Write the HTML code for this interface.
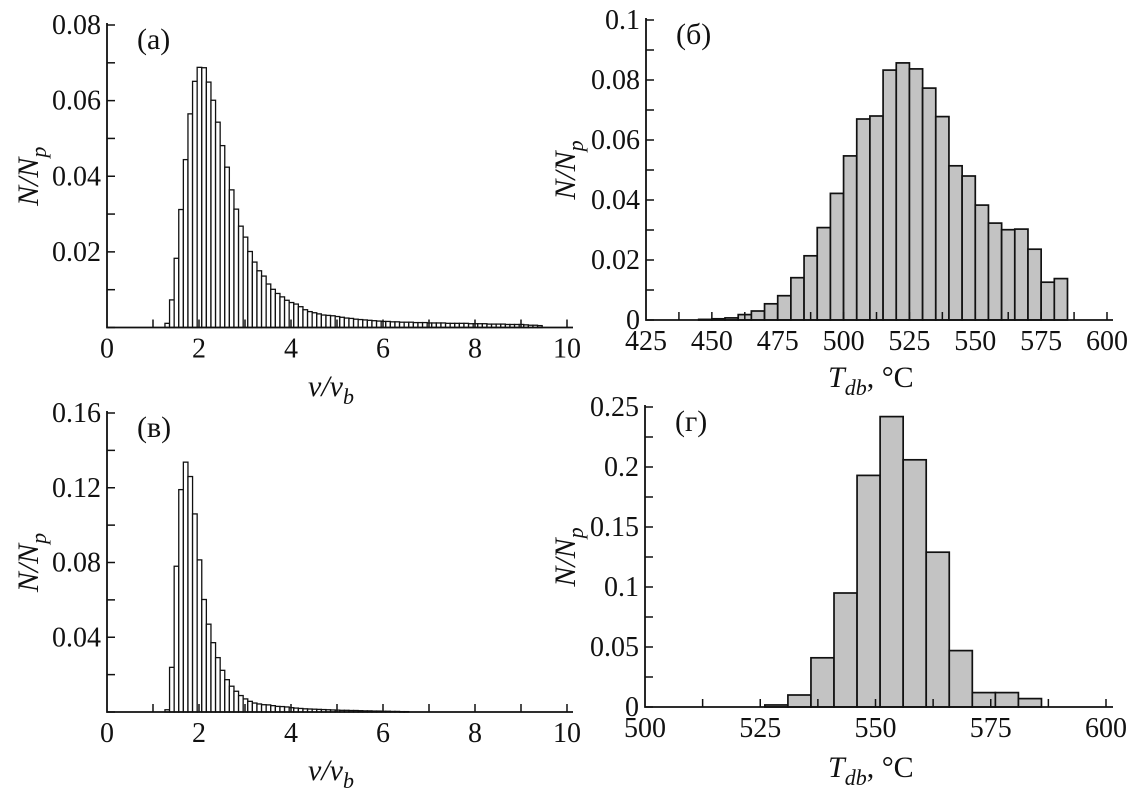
<!DOCTYPE html>
<html><head><meta charset="utf-8"><style>
body{margin:0;background:#fff;}
svg{display:block;font-family:"Liberation Serif",serif;}
</style></head><body>
<svg id="fig" width="1139" height="800" viewBox="0 0 1139 800" xmlns="http://www.w3.org/2000/svg"></svg>
<script>
// Panel (a): v/v_b histogram, bins of 0.1 starting at 1.26, values in units of 0.001
const aBinStart = 1.26;
const aBinWidth = 0.1;
const aValues = [1.1,7.3,18.3,31.2,44.4,56.5,65.1,68.8,68.7,64.9,60.1,54.3,48.1,42.4,36.4,31.3,26.8,23.9,20.1,17.3,15.0,13.6,11.5,10.1,9.0,8.1,7.2,6.6,6.2,5.5,4.7,4.2,3.9,3.6,3.3,3.2,3.1,2.9,2.7,2.5,2.4,2.2,2.1,2.0,1.9,1.8,1.7,1.6,1.6,1.5,1.5,1.4,1.4,1.4,1.3,1.3,1.3,1.2,1.2,1.2,1.2,1.1,1.1,1.1,1.1,1.1,1.0,1.0,1.0,1.0,0.9,0.9,0.9,0.9,0.8,0.8,0.8,0.8,0.7,0.6,0.6,0.5];
const aYTicks = ["0.02","0.04","0.06","0.08"];
const vXTicks = ["0","2","4","6","8","10"];
// Panel (б): T_db histogram, bins of 5 °C
const bBinStart = 445;
const bBinWidth = 5;
const bValues = [0.2,0.4,0.7,1.8,3.0,5.4,8.1,14.1,21.4,30.8,42.2,54.7,67.0,68.0,83.3,85.7,83.7,77.3,67.8,51.4,48.0,38.3,32.3,30.1,30.3,23.6,12.6,13.8];
const bYTicks = ["0","0.02","0.04","0.06","0.08","0.1"];
const bXTicks = ["425","450","475","500","525","550","575","600"];
// Panel (в)
const cBinStart = 1.26;
const cBinWidth = 0.1;
const cValues = [1.2,23.9,78,119,133.7,126,106,81.4,60.2,47,37.1,29.1,22.3,17.3,13.8,11.1,8.8,7.0,5.7,4.8,4.3,3.9,3.8,3.4,3.0,2.9,2.7,2.3,2.1,1.9,1.7,1.6,1.5,1.4,1.3,1.2,1.1,1.0,0.9,0.9,0.8,0.8,0.7,0.6,0.6,0.5,0.5,0.4,0.4,0.3,0.3,0.2,0.2];
const cYTicks = ["0.04","0.08","0.12","0.16"];
// Panel (г)
const dBinStart = 526;
const dBinWidth = 5;
const dValues = [0.0017,0.010,0.041,0.095,0.193,0.242,0.206,0.129,0.047,0.012,0.012,0.007];
const dYTicks = ["0","0.05","0.1","0.15","0.2","0.25"];
const dXTicks = ["500","525","550","575","600"];

const NS="http://www.w3.org/2000/svg";
const svg=document.getElementById('fig');
function mk(tag,attrs,parent){const e=document.createElementNS(NS,tag);for(const k in attrs)e.setAttribute(k,attrs[k]);(parent||svg).appendChild(e);return e;}

function panel(cfg){
  const g=mk('g',{});
  
  
  const X=v=>cfg.x0+(v-cfg.xmin)/(cfg.xmax-cfg.xmin)*(cfg.x1-cfg.x0);
  const Y=v=>cfg.y0-(v-cfg.ymin)/(cfg.ymax-cfg.ymin)*(cfg.y0-cfg.y1);
  const bg=mk('g',{},g);
  
  
  cfg.values.forEach((v,i)=>{
    const l=cfg.binStart+i*cfg.binWidth, val=v*cfg.scale;
    const xa=X(l), xb=X(l+cfg.binWidth), yt=Y(val);
    const r=mk('rect',{x:xa,y:yt,width:xb-xa,height:Math.max(0.5,cfg.y0-yt),fill:cfg.fill,stroke:'#111','stroke-width':cfg.sw},bg);
    
    
  });
  const ax=mk('path',{d:`M${cfg.x0},${cfg.y1-2} V${cfg.y0} H${cfg.xEnd}`,fill:'none',stroke:'#111','stroke-width':1.8},g);
  
  
  for(let v=cfg.ymin;v<=cfg.ymax+1e-9;v+=cfg.yMinor){
    mk('line',{x1:cfg.x0,x2:cfg.x0+8,y1:Y(v),y2:Y(v),stroke:'#111','stroke-width':1.5},g);
  }
  cfg.yTicks.forEach(t=>{
    const tx=mk('text',{x:cfg.x0-6,y:Y(parseFloat(t))+9,'text-anchor':'end','font-size':28,fill:'#111'},g);
    tx.textContent=t;
    
    
  });
  for(let v=cfg.xmin+cfg.xMinor;v<=cfg.xmax+1e-9;v+=cfg.xMinor){
    mk('line',{x1:X(v),x2:X(v),y1:cfg.y0,y2:cfg.y0-8,stroke:'#111','stroke-width':1.5},g);
  }
  cfg.xTicks.forEach(t=>{
    const tx=mk('text',{x:X(parseFloat(t)),y:cfg.y0+30,'text-anchor':'middle','font-size':28,fill:'#111'},g);
    tx.textContent=t;
    
    
  });
  const lt=mk('text',{x:cfg.x0+30,y:cfg.y1+24,'font-size':30,fill:'#111'},g);
  lt.textContent=cfg.letter;
  
  
  const yc=(cfg.y0+cfg.y1)/2;
  const yt=mk('text',{x:0,y:0,transform:`translate(${cfg.yTitleX},${yc}) rotate(-90)`,'text-anchor':'middle','font-size':30,'font-style':'italic',fill:'#111'},g);
  yt.innerHTML='N/N<tspan font-size="22" dy="8">p</tspan>';
  
  
  const xt=mk('text',{x:cfg.xTitleX,y:cfg.xTitleY,'font-size':30,fill:'#111'},g);
  xt.innerHTML=cfg.xTitle;
  
  
}

const vTitle='<tspan font-style="italic">v/v</tspan><tspan font-style="italic" font-size="22" dy="8">b</tspan>';
const tTitle='<tspan font-style="italic">T</tspan><tspan font-style="italic" font-size="22" dy="8">db</tspan><tspan dy="-8">, °C</tspan>';
panel({name:'panel-a',letter:'(a)',x0:107,x1:567,xEnd:573,xmin:0,xmax:10,y0:327.5,y1:25,ymin:0,ymax:0.08,
  values:aValues,binStart:aBinStart,binWidth:aBinWidth,scale:0.001,fill:'#fff',sw:1.3,
  yMinor:0.01,xMinor:1,yTicks:aYTicks,xTicks:vXTicks,yTitleX:38,
  xTitle:vTitle,xTitleX:308,xTitleY:396});
panel({name:'panel-b',letter:'(б)',x0:646,x1:1107,xEnd:1113,xmin:425,xmax:600,y0:320,y1:20,ymin:0,ymax:0.1,
  values:bValues,binStart:bBinStart,binWidth:bBinWidth,scale:0.001,fill:'#c3c3c3',sw:1.7,
  yMinor:0.01,xMinor:12.5,yTicks:bYTicks,xTicks:bXTicks,yTitleX:575,
  xTitle:tTitle,xTitleX:828,xTitleY:387});
panel({name:'panel-c',letter:'(в)',x0:107,x1:567,xEnd:573,xmin:0,xmax:10,y0:712,y1:413,ymin:0,ymax:0.16,
  values:cValues,binStart:cBinStart,binWidth:cBinWidth,scale:0.001,fill:'#fff',sw:1.3,
  yMinor:0.02,xMinor:1,yTicks:cYTicks,xTicks:vXTicks,yTitleX:38,
  xTitle:vTitle,xTitleX:308,xTitleY:780});
panel({name:'panel-d',letter:'(г)',x0:645,x1:1106,xEnd:1113,xmin:500,xmax:600,y0:707,y1:407,ymin:0,ymax:0.25,
  values:dValues,binStart:dBinStart,binWidth:dBinWidth,scale:1,fill:'#c3c3c3',sw:1.7,
  yMinor:0.025,xMinor:12.5,yTicks:dYTicks,xTicks:dXTicks,yTitleX:575,
  xTitle:tTitle,xTitleX:828,xTitleY:777});
</script>
</body></html>
